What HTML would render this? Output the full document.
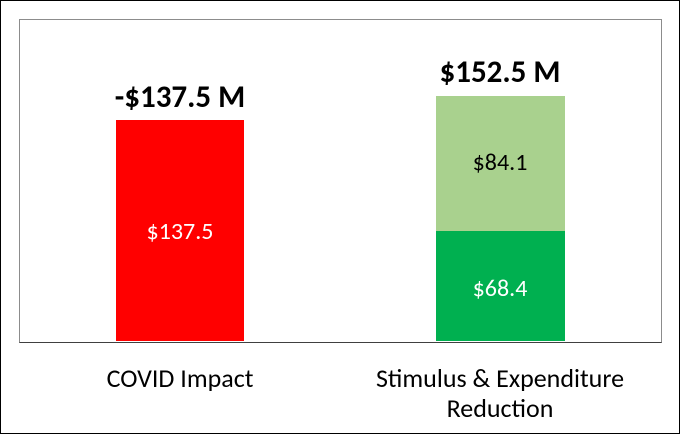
<!DOCTYPE html>
<html><head><style>
body{margin:0;background:#fff}
.c{position:relative;width:678px;height:432px;border:1px solid #000;font-family:Calibri,Carlito,"Liberation Sans",sans-serif;overflow:hidden}
.a{position:absolute}
.t{position:absolute;text-align:center;white-space:nowrap;line-height:30px;height:30px}
</style></head><body><div class="c">
<div class="a" style="left:18px;top:18px;width:641px;height:322px;border:1px solid #8c8c8c;border-bottom:1px solid #404040"></div>
<div class="a" style="left:115px;top:119px;width:128px;height:221px;background:#ff0000"></div>
<div class="a" style="left:435px;top:95px;width:129px;height:136px;background:#a9d18e"></div>
<div class="a" style="left:435px;top:230px;width:129px;height:110px;background:#00b050"></div>
<div class="t" style="left:79px;width:200px;top:81px;font-size:31px;font-weight:bold">-$137.5 M</div>
<div class="t" style="left:399px;width:200px;top:56px;font-size:31px;font-weight:bold">$152.5 M</div>
<div class="t" style="left:79px;width:200px;top:216px;font-size:24px;color:#fff">$137.5</div>
<div class="t" style="left:399px;width:200px;top:147px;font-size:24px;color:#000">$84.1</div>
<div class="t" style="left:399px;width:200px;top:273px;font-size:24px;color:#fff">$68.4</div>
<div class="t" style="left:49px;width:260px;top:362px;font-size:26px">COVID Impact</div>
<div class="t" style="left:349px;width:300px;top:362px;font-size:26px;height:60px">Stimulus &amp; Expenditure<br>Reduction</div>
</div></body></html>
